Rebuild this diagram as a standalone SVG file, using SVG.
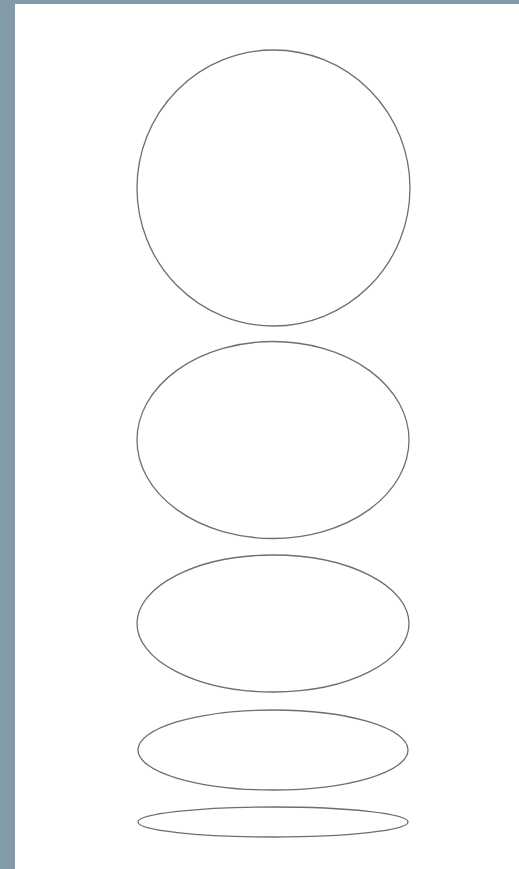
<svg xmlns="http://www.w3.org/2000/svg" width="519" height="869" viewBox="0 0 519 869">
<style>
.sh{fill:none;stroke:#6e6e6e;stroke-width:1.3}
</style>
<rect x="0" y="0" width="519" height="869" fill="#ffffff"/>
<rect x="0" y="0" width="519" height="4" fill="#819ba8"/>
<rect x="0" y="0" width="15" height="869" fill="#819ba8"/>
<g id="shape1"><ellipse class="sh" cx="273.5" cy="188" rx="136.5" ry="138"/></g>
<g id="shape2"><ellipse class="sh" cx="273" cy="440" rx="136" ry="98.5"/></g>
<g id="shape3"><ellipse class="sh" cx="273" cy="623.5" rx="136" ry="68.5"/></g>
<g id="shape4"><ellipse class="sh" cx="273" cy="750" rx="135" ry="40"/></g>
<g id="shape5"><ellipse class="sh" cx="273" cy="822" rx="135" ry="15"/></g>
<g id="connectors"></g>
</svg>
